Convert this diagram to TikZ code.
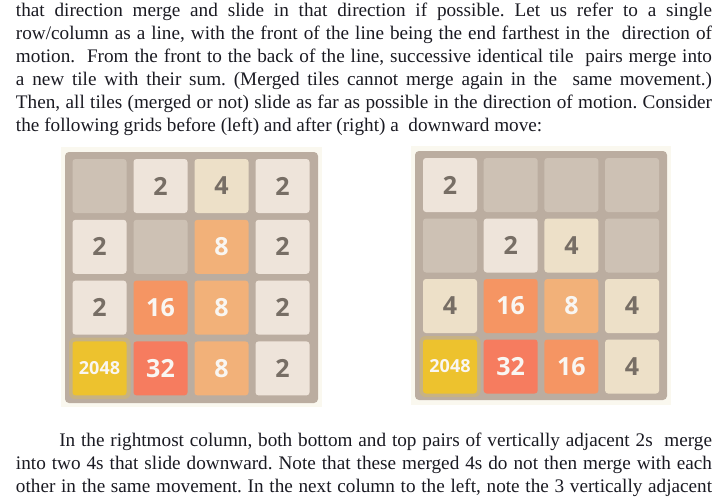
\documentclass[tikz,border=0pt]{standalone}
\usepackage{fontspec}
\usepackage{graphicx}
\setmainfont{Liberation Serif}
\newfontfamily\tilefont{Open Sans}
\definecolor{frameC}{HTML}{BBADA0}
\definecolor{emptyC}{HTML}{CDC1B4}
\definecolor{tTwo}{HTML}{EEE4DA}
\definecolor{tFour}{HTML}{EDE0C8}
\definecolor{tEight}{HTML}{F2B179}
\definecolor{tSixteen}{HTML}{F59563}
\definecolor{tThirtyTwo}{HTML}{F67C5F}
\definecolor{tBig}{HTML}{EDC22E}
\definecolor{darkT}{HTML}{776E65}
\definecolor{lightT}{HTML}{F9F6F2}
\definecolor{pageC}{HTML}{FAF8EF}
\definecolor{inkC}{HTML}{1A1A22}
\newcommand\jline[2]{\setbox0\hbox{#2}\ifdim\wd0>#1\relax\resizebox{#1}{\height}{#2}\else\makebox[#1][s]{#2}\fi}
\begin{document}
\begin{tikzpicture}[x=1pt,y=-1pt,
  textline/.style={anchor=base west, inner sep=0pt, outer sep=0pt, text=inkC, font={\fontsize{19.2}{23}\selectfont\frenchspacing}},
  gridframe/.style={fill=frameC, rounded corners=4pt},
  tile/.style={minimum size=54pt, inner sep=0pt, outer sep=0pt, rounded corners=3pt, anchor=north west},
  emptytile/.style={tile, fill=emptyC},
  darknum/.style={tile, text=darkT, font={\tilefont\bfseries\fontsize{25}{25}\selectfont}},
  lightnum/.style={tile, text=lightT, font={\tilefont\bfseries\fontsize{25}{25}\selectfont}},
  vtwo/.style={darknum, fill=tTwo},
  vfour/.style={darknum, fill=tFour},
  veight/.style={lightnum, fill=tEight},
  vsixteen/.style={lightnum, fill=tSixteen},
  vthirtytwo/.style={lightnum, fill=tThirtyTwo},
  vbig/.style={lightnum, fill=tBig, font={\tilefont\bfseries\fontsize{18}{18}\selectfont}},
  glow/.style={fill=tBig, opacity=0.25, rounded corners=6pt}
]
\useasboundingbox (0,0) rectangle (725,500);
\fill[white] (0,0) rectangle (725,500);

% ---- paragraph 1 ----
\node[textline] (p1) at (16,16.7) {\jline{696pt}{that direction merge and slide in that direction if possible. Let us refer to a single}};
\node[textline] (p2) at (16,39.7) {\jline{696pt}{row/column as a line, with the front of the line being the end farthest in the\ \ direction of}};
\node[textline] (p3) at (16,62.7) {\jline{696pt}{motion.\ \ From the front to the back of the line, successive identical tile\ \ pairs merge into}};
\node[textline] (p4) at (16,85.7) {\jline{696pt}{a new tile with their sum. (Merged tiles cannot merge again in the\ \ same movement.)}};
\node[textline] (p5) at (16,108.7) {\jline{696pt}{Then, all tiles (merged or not) slide as far as possible in the direction of motion. Consider}};
\node[textline] (p6) at (16,131.7) {the following grids before (left) and after (right) a\ \ downward move:};

% ---- left grid ----
\fill[pageC] (61,147) rectangle (322,407);
\fill[gridframe] (65,152) rectangle (318,403);
\fill[glow] (69,337.5) rectangle (130.5,399);
\node[emptytile] (La) at (72.5,159) {};
\node[vtwo] (Lb) at (133.5,159) {2};
\node[vfour] (Lc) at (194.5,159) {4};
\node[vtwo] (Ld) at (255.5,159) {2};
\node[vtwo] (Le) at (72.5,219.8) {2};
\node[emptytile] (Lf) at (133.5,219.8) {};
\node[veight] (Lg) at (194.5,219.8) {8};
\node[vtwo] (Lh) at (255.5,219.8) {2};
\node[vtwo] (Li) at (72.5,280.6) {2};
\node[vsixteen] (Lj) at (133.5,280.6) {16};
\node[veight] (Lk) at (194.5,280.6) {8};
\node[vtwo] (Ll) at (255.5,280.6) {2};
\node[vbig] (Lm) at (72.5,341.4) {2048};
\node[vthirtytwo] (Ln) at (133.5,341.4) {32};
\node[veight] (Lo) at (194.5,341.4) {8};
\node[vtwo] (Lp) at (255.5,341.4) {2};

% ---- right grid ----
\fill[pageC] (411,146) rectangle (671,405);
\fill[gridframe] (415,151) rectangle (667,400);
\fill[glow] (419.5,336) rectangle (480.5,397);
\node[vtwo] (Ra) at (423,158) {2};
\node[emptytile] (Rb) at (483.7,158) {};
\node[emptytile] (Rc) at (544.4,158) {};
\node[emptytile] (Rd) at (605.1,158) {};
\node[emptytile] (Re) at (423,218.5) {};
\node[vtwo] (Rf) at (483.7,218.5) {2};
\node[vfour] (Rg) at (544.4,218.5) {4};
\node[emptytile] (Rh) at (605.1,218.5) {};
\node[vfour] (Ri) at (423,279) {4};
\node[vsixteen] (Rj) at (483.7,279) {16};
\node[veight] (Rk) at (544.4,279) {8};
\node[vfour] (Rl) at (605.1,279) {4};
\node[vbig] (Rm) at (423,339.5) {2048};
\node[vthirtytwo] (Rn) at (483.7,339.5) {32};
\node[vsixteen] (Ro) at (544.4,339.5) {16};
\node[vfour] (Rp) at (605.1,339.5) {4};

% ---- paragraph 2 ----
\node[textline] (q1) at (59.3,446.7) {\jline{652.7pt}{In the rightmost column, both bottom and top pairs of vertically adjacent 2s\ \ merge}};
\node[textline] (q2) at (16,469.7) {\jline{696pt}{into two 4s that slide downward. Note that these merged 4s do not then merge with each}};
\node[textline] (q3) at (16,492.7) {\jline{696pt}{other in the same movement. In the next column to the left, note the 3 vertically adjacent}};
\end{tikzpicture}
\end{document}
